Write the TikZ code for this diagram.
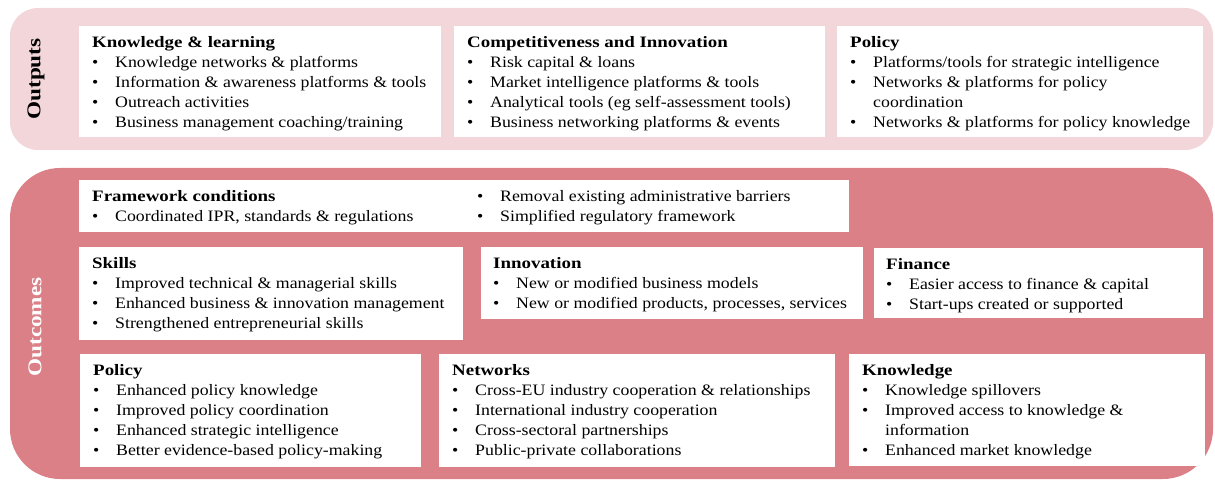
\documentclass[tikz,border=0pt]{standalone}
\usepackage{fontspec}
\setmainfont{Liberation Serif}[FakeStretch=1.12,BoldFont={Liberation Serif Bold},BoldFeatures={FakeStretch=1.19}]
\definecolor{outputband}{RGB}{242,214,218}
\definecolor{outcomeband}{RGB}{220,128,136}
\tikzset{
  panel/.style={fill=white,draw=none,anchor=north west,inner sep=0pt},
  txt/.style={anchor=base west,inner sep=0pt,font=\fontsize{15.9}{20}\selectfont,align=left},
  bandlabel/.style={rotate=90,inner sep=0pt,font=\bfseries\fontsize{19.5}{22}\selectfont},
}
% bullet list rows: bullet in a fixed 23pt column, text after it
\newcommand\bl{\textbullet &}
\newcommand\hd[1]{\multicolumn{2}{@{}l@{}}{\bfseries #1}}
\newenvironment{blist}{\begin{tabular}[t]{@{}p{23pt}@{}l@{}}}{\end{tabular}}
\begin{document}
\begin{tikzpicture}[x=1pt,y=-1pt]
\useasboundingbox (0,0) rectangle (1215,481);
% bands
\fill[outputband,rounded corners=28pt] (10,8) rectangle (1213,150);
\fill[outcomeband,rounded corners=50pt] (10,168) rectangle (1213,479);
\node[bandlabel,text=black] (lab-out) at (36,79) {Outputs};
\node[bandlabel,text=white] (lab-outc) at (35,327) {Outcomes};

% output panels
\node[panel,minimum width=362pt,minimum height=111pt] (okl) at (79,26) {};
\node[panel,minimum width=371pt,minimum height=111pt] (oci) at (454,26) {};
\node[panel,minimum width=366pt,minimum height=111pt] (opl) at (837,26) {};

% outcome panels
\node[panel,minimum width=770pt,minimum height=52pt] (cfw) at (79,180) {};
\node[panel,minimum width=384pt,minimum height=93pt] (csk) at (79,247) {};
\node[panel,minimum width=382pt,minimum height=72pt] (cin) at (481,247) {};
\node[panel,minimum width=329pt,minimum height=70pt] (cfi) at (874,248) {};
\node[panel,minimum width=341pt,minimum height=113pt] (cpo) at (80,354) {};
\node[panel,minimum width=396pt,minimum height=113pt] (cnw) at (439,354) {};
\node[panel,minimum width=356pt,minimum height=112pt] (ckn) at (849,354) {};

% texts
\node[txt] (t-okl) at ([shift={(13,21.5)}]okl.north west) {\begin{blist}
\hd{Knowledge \& learning}\\
\bl Knowledge networks \& platforms\\
\bl Information \& awareness platforms \& tools\\
\bl Outreach activities\\
\bl Business management coaching/training
\end{blist}};
\node[txt] (t-oci) at ([shift={(13,21.5)}]oci.north west) {\begin{blist}
\hd{Competitiveness and Innovation}\\
\bl Risk capital \& loans\\
\bl Market intelligence platforms \& tools\\
\bl Analytical tools (eg self-assessment tools)\\
\bl Business networking platforms \& events
\end{blist}};
\node[txt] (t-opl) at ([shift={(13,21.5)}]opl.north west) {\begin{blist}
\hd{Policy}\\
\bl Platforms/tools for strategic intelligence\\
\bl Networks \& platforms for policy\\
& coordination\\
\bl Networks \& platforms for policy knowledge
\end{blist}};

\node[txt] (t-cfw) at ([shift={(13,21.5)}]cfw.north west) {\begin{blist}
\hd{Framework conditions}\\
\bl Coordinated IPR, standards \& regulations
\end{blist}};
\node[txt] (t-cfw2) at ([shift={(398,21.5)}]cfw.north west) {\begin{blist}
\bl Removal existing administrative barriers\\
\bl Simplified regulatory framework
\end{blist}};
\node[txt] (t-csk) at ([shift={(13,21.5)}]csk.north west) {\begin{blist}
\hd{Skills}\\
\bl Improved technical \& managerial skills\\
\bl Enhanced business \& innovation management\\
\bl Strengthened entrepreneurial skills
\end{blist}};
\node[txt] (t-cin) at ([shift={(12,21.5)}]cin.north west) {\begin{blist}
\hd{Innovation}\\
\bl New or modified business models\\
\bl New or modified products, processes, services
\end{blist}};
\node[txt] (t-cfi) at ([shift={(12,21.5)}]cfi.north west) {\begin{blist}
\hd{Finance}\\
\bl Easier access to finance \& capital\\
\bl Start-ups created or supported
\end{blist}};
\node[txt] (t-cpo) at ([shift={(13,21.5)}]cpo.north west) {\begin{blist}
\hd{Policy}\\
\bl Enhanced policy knowledge\\
\bl Improved policy coordination\\
\bl Enhanced strategic intelligence\\
\bl Better evidence-based policy-making
\end{blist}};
\node[txt] (t-cnw) at ([shift={(13,21.5)}]cnw.north west) {\begin{blist}
\hd{Networks}\\
\bl Cross-EU industry cooperation \& relationships\\
\bl International industry cooperation\\
\bl Cross-sectoral partnerships\\
\bl Public-private collaborations
\end{blist}};
\node[txt] (t-ckn) at ([shift={(13,21.5)}]ckn.north west) {\begin{blist}
\hd{Knowledge}\\
\bl Knowledge spillovers\\
\bl Improved access to knowledge \&\\
& information\\
\bl Enhanced market knowledge
\end{blist}};
\end{tikzpicture}
\end{document}
